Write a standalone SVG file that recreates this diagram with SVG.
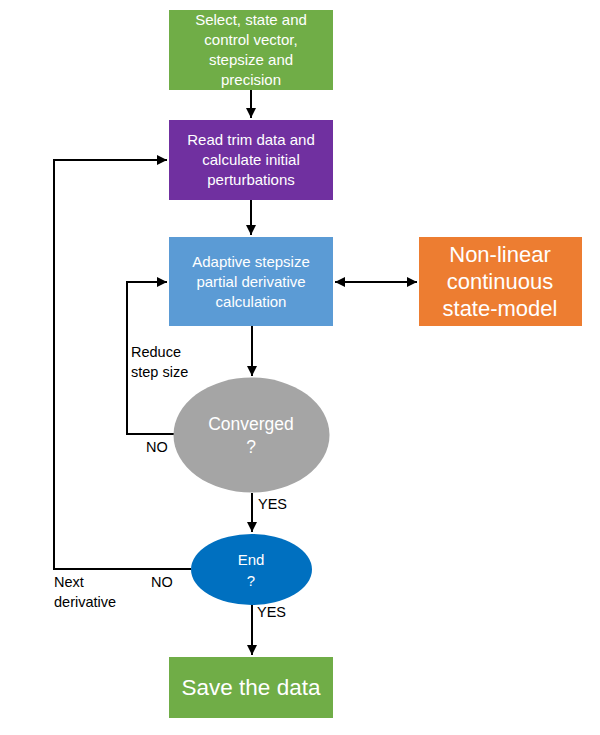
<svg xmlns="http://www.w3.org/2000/svg" width="600" height="735" viewBox="0 0 600 735">
<style>
.t{font-family:"Liberation Sans",Arial,sans-serif;fill:#fff;text-anchor:middle}
.s{font-size:15px}
.l{font-family:"Liberation Sans",Arial,sans-serif;fill:#000;font-size:14.5px}
.c{stroke:#000;stroke-width:2;fill:none}
</style>
<defs>
<marker id="ah" viewBox="0 0 10 10" refX="10" refY="5" markerWidth="5" markerHeight="5" orient="auto-start-reverse" markerUnits="strokeWidth">
<path d="M0,0 L10,5 L0,10 z" fill="#000"/>
</marker>
</defs>
<rect width="600" height="735" fill="#fff"/>
<g id="connectors">
<line class="c" x1="251" y1="90" x2="251" y2="118" marker-end="url(#ah)"/>
<line class="c" x1="251" y1="200" x2="251" y2="235" marker-end="url(#ah)"/>
<line class="c" x1="335" y1="282" x2="417" y2="282" marker-start="url(#ah)" marker-end="url(#ah)"/>
<line class="c" x1="252" y1="326" x2="252" y2="376" marker-end="url(#ah)"/>
<polyline class="c" points="174,434 127,434 127,282 167,282" marker-end="url(#ah)"/>
<line class="c" x1="252" y1="493" x2="252" y2="532" marker-end="url(#ah)"/>
<polyline class="c" points="191,569 54,569 54,160 167,160" marker-end="url(#ah)"/>
<line class="c" x1="252" y1="605" x2="252" y2="655" marker-end="url(#ah)"/>
<text class="l" x="131" y="357">Reduce</text>
<text class="l" x="131" y="377">step size</text>
<text class="l" x="146" y="452">NO</text>
<text class="l" x="258" y="509">YES</text>
<text class="l" x="54" y="587">Next</text>
<text class="l" x="54" y="607">derivative</text>
<text class="l" x="151" y="587">NO</text>
<text class="l" x="257" y="617">YES</text>
</g>
<g id="select">
<rect x="169" y="10" width="164" height="80" fill="#70AD47"/>
<text class="t s" x="251" y="25">Select, state and</text>
<text class="t s" x="251" y="45">control vector,</text>
<text class="t s" x="251" y="65">stepsize and</text>
<text class="t s" x="251" y="85">precision</text>
</g>
<g id="read">
<rect x="169" y="120" width="164" height="80" fill="#7030A0"/>
<text class="t s" x="251" y="145">Read trim data and</text>
<text class="t s" x="251" y="165">calculate initial</text>
<text class="t s" x="251" y="185">perturbations</text>
</g>
<g id="adaptive">
<rect x="169" y="237" width="164" height="89" fill="#5B9BD5"/>
<text class="t s" x="251" y="267">Adaptive stepsize</text>
<text class="t s" x="251" y="287">partial derivative</text>
<text class="t s" x="251" y="307">calculation</text>
</g>
<g id="model">
<rect x="419" y="237" width="163" height="89" fill="#ED7D31"/>
<text class="t" style="font-size:22px" x="500" y="262">Non-linear</text>
<text class="t" style="font-size:22px" x="500" y="289">continuous</text>
<text class="t" style="font-size:22px" x="500" y="316">state-model</text>
</g>
<g id="converged">
<ellipse cx="251.5" cy="435" rx="78" ry="57.5" fill="#A5A5A5"/>
<text class="t" style="font-size:17.5px" x="251" y="430">Converged</text>
<text class="t" style="font-size:17.5px" x="251" y="453">?</text>
</g>
<g id="end">
<ellipse cx="251.5" cy="569.5" rx="60.5" ry="35.5" fill="#0070C0"/>
<text class="t s" x="251" y="565">End</text>
<text class="t s" x="251" y="586">?</text>
</g>
<g id="save">
<rect x="169" y="657" width="164" height="61" fill="#70AD47"/>
<text class="t" style="font-size:22.5px" x="251" y="695">Save the data</text>
</g>
</svg>
